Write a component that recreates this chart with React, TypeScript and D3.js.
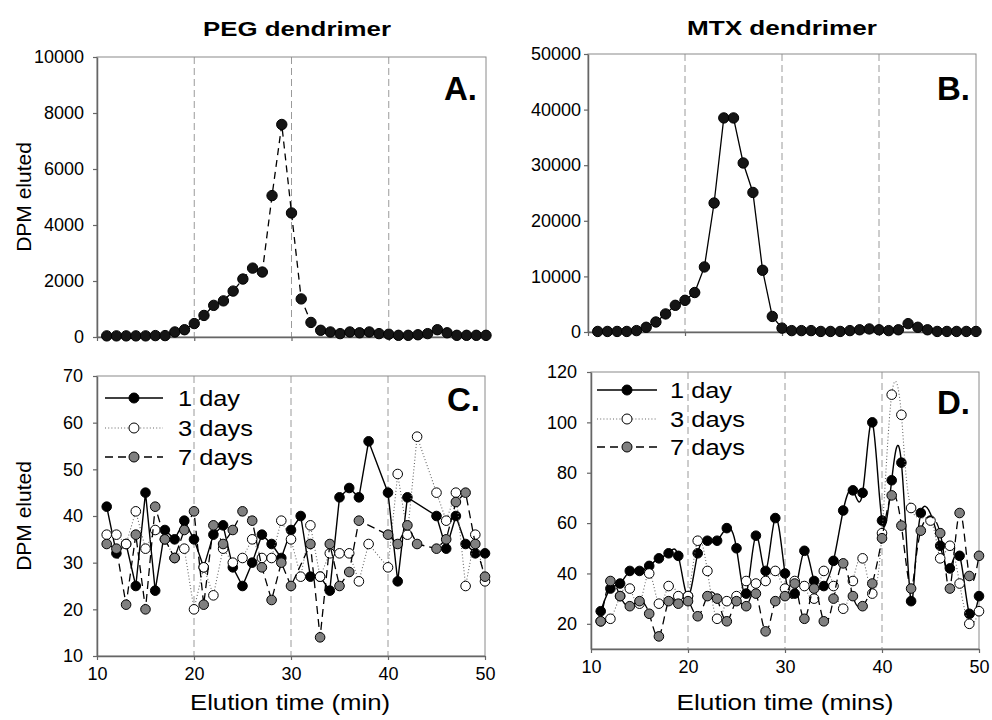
import React, { useEffect, useRef } from "react";
import * as d3 from "d3";

const FONT = "Arial, 'Liberation Sans', Helvetica, sans-serif";

// elution time, minutes
const minutes = [11, 12, 13, 14, 15, 16, 17, 18, 19, 20, 21, 22, 23, 24, 25, 26, 27, 28, 29, 30,
  31, 32, 33, 34, 35, 36, 37, 38, 39, 40, 41, 42, 43, 44, 45, 46, 47, 48, 49, 50];
const guideMinutes = [20, 30, 40];
const xTicks = [10, 20, 30, 40, 50];

// A. PEG dendrimer
const pegDpm = [40, 40, 40, 40, 40, 50, 50, 180, 260, 480, 770, 1130, 1290, 1640, 2070, 2460, 2320, 5050, 7590, 4430,
  1360, 520, 240, 180, 120, 180, 150, 180, 120, 100, 60, 60, 80, 120, 260, 150, 60, 60, 60, 60];
// B. MTX dendrimer
const mtxDpm = [100, 100, 100, 100, 250, 850, 1800, 3250, 4800, 5700, 7100, 11700, 23200, 38500, 38500, 30400, 25100, 11100, 2800, 700,
  250, 250, 250, 100, 100, 100, 250, 400, 550, 400, 250, 400, 1500, 850, 400, 100, 100, 100, 100, 100];

// C. PEG dendrimer, by day
const pegDay1 = [42, 32, 34, 25, 45, 24, 37, 35, 39, 35, 29, 36, 38, 29, 25, 30, 36, 34, 31, 37,
  40, 27, 27, 24, 44, 46, 44, 56, null, 45, 26, 44, null, null, 40, 33, 40, 34, 32, 32];
const pegDay3 = [36, 36, 34, 41, 33, 37, 35, 31, 33, 20, 29, 23, 33, 30, 31, 35, 31, 31, 39, 35,
  27, 38, 27, 32, 32, 32, 26, 34, null, 29, 49, 36, 57, null, 45, 39, 45, 25, 36, 26];
const pegDay7 = [34, 33, 21, 36, 20, 42, 35, 31, 37, 41, 21, 38, 34, 37, 41, 39, 29, 22, 30, 25,
  null, 34, 14, 34, 25, 28, 39, null, null, 36, 34, 38, 34, null, 33, 35, 43, 45, 34, 27];

// D. MTX dendrimer, by day
const mtxDay1 = [25, 34, 36, 41, 41, 43, 46, 48, 47, 31, 48, 53, 53, 58, 50, 32, 55, 41, 62, 40,
  32, 49, 37, 35, 45, 65, 73, 72, 100, 61, 77, 84, 29, 64, null, 51, 42, 47, 24, 31];
const mtxDay3 = [21, 22, 31, 34, 28, 40, 28, 35, 31, 31, 53, 41, 22, 29, 31, 37, 36, 37, 41, 34,
  37, 35, 30, 41, 35, 26, 37, 46, 32, 56, 111, 103, 66, null, 61, 46, 51, 36, 20, 25];
const mtxDay7 = [21, 37, 31, 27, 29, 24, 15, 29, 28, 29, 23, 31, 30, 21, 29, 27, 32, 17, 29, 31,
  36, 22, 34, 21, 30, 44, 31, 27, 36, 54, 71, 59, 34, 57, null, 56, 34, 64, 39, 47];

const seriesNames = ["1 day", "3 days", "7 days"];

const seriesStyles = [
  { fill: "#000", line: "#000", width: 1.4, dash: null as string | null },
  { fill: "#fff", line: "#666", width: 1.1, dash: "1,2.2" },
  { fill: "#808080", line: "#000", width: 1.3, dash: "8,5" },
];

type Box = { left: number; right: number; top: number; bottom: number };

function drawFrame(svg: any, box: Box, yDomain: [number, number], yTicks: number[], yPad: number, xLabels: boolean) {
  const x = d3.scaleLinear().domain([10, 50]).range([box.left, box.right]);
  const y = d3.scaleLinear().domain(yDomain).range([box.bottom, box.top]);
  const g = svg.append("g");

  g.selectAll("line.guide")
    .data(guideMinutes)
    .join("line")
    .attr("x1", (d: number) => x(d))
    .attr("x2", (d: number) => x(d))
    .attr("y1", box.top)
    .attr("y2", box.bottom)
    .attr("stroke", "#9a9a9a")
    .attr("stroke-width", 1)
    .attr("stroke-dasharray", "7,4");

  g.append("rect")
    .attr("x", box.left)
    .attr("y", box.top)
    .attr("width", box.right - box.left)
    .attr("height", box.bottom - box.top)
    .attr("fill", "none")
    .attr("stroke", "#8a8a8a")
    .attr("stroke-width", 1);

  const yAxis = g.append("g")
    .attr("transform", `translate(${box.left},0)`)
    .call(d3.axisLeft(y).tickValues(yTicks).tickSize(4).tickSizeOuter(0).tickPadding(yPad).tickFormat(d3.format("d")));

  const xAxis = g.append("g")
    .attr("transform", `translate(0,${box.bottom})`)
    .call(d3.axisBottom(x).tickValues(xTicks).tickSize(4).tickSizeOuter(0).tickPadding(7)
      .tickFormat((d: any) => (xLabels ? String(d) : "")));

  [yAxis, xAxis].forEach(ax => {
    ax.select(".domain").attr("stroke", "#666").attr("stroke-width", 1.5);
    ax.selectAll(".tick line").attr("stroke", "#666").attr("stroke-width", 1.2);
    ax.selectAll(".tick text")
      .attr("fill", "#000")
      .attr("font-family", FONT)
      .attr("font-size", 18);
  });

  return { x, y, g };
}

function drawSeries(g: any, x: any, y: any, values: (number | null)[], style: typeof seriesStyles[0], curve: any, r: number) {
  const pts = minutes
    .map((m, i) => ({ m, v: values[i] }))
    .filter(p => p.v !== null) as { m: number; v: number }[];

  const line = d3.line<{ m: number; v: number }>()
    .x(p => x(p.m))
    .y(p => y(p.v))
    .curve(curve);

  g.append("path")
    .datum(pts)
    .attr("d", line)
    .attr("fill", "none")
    .attr("stroke", style.line)
    .attr("stroke-width", style.width)
    .attr("stroke-dasharray", style.dash);

  g.append("g")
    .selectAll("circle")
    .data(pts)
    .join("circle")
    .attr("cx", (p: any) => x(p.m))
    .attr("cy", (p: any) => y(p.v))
    .attr("r", r)
    .attr("fill", style.fill)
    .attr("stroke", "#000")
    .attr("stroke-width", 1);
}

function drawLegend(svg: any, x0: number, x1: number, textX: number, rows: number[]) {
  const g = svg.append("g");
  seriesNames.forEach((name, i) => {
    const s = seriesStyles[i];
    g.append("line")
      .attr("x1", x0).attr("x2", x1)
      .attr("y1", rows[i]).attr("y2", rows[i])
      .attr("stroke", s.line)
      .attr("stroke-width", s.width)
      .attr("stroke-dasharray", s.dash);
    g.append("circle")
      .attr("cx", (x0 + x1) / 2).attr("cy", rows[i]).attr("r", 5)
      .attr("fill", s.fill).attr("stroke", "#000").attr("stroke-width", 1);
    g.append("text")
      .attr("x", textX).attr("y", rows[i] + 8)
      .attr("font-family", FONT).attr("font-size", 22)
      .attr("textLength", name === "1 day" ? 62 : 75)
      .attr("lengthAdjust", "spacingAndGlyphs")
      .text(name);
  });
}

function addText(svg: any, txt: string, x: number, y: number, size: number, opts: any = {}) {
  const t = svg.append("text")
    .attr("x", x).attr("y", y)
    .attr("font-family", FONT)
    .attr("font-size", size)
    .attr("font-weight", opts.bold ? "bold" : "normal")
    .attr("text-anchor", opts.anchor || "middle")
    .text(txt);
  if (opts.len) t.attr("textLength", opts.len).attr("lengthAdjust", "spacingAndGlyphs");
  if (opts.rotate) t.attr("transform", `rotate(-90,${x},${y})`);
  return t;
}

export default function App() {
  const ref = useRef<SVGSVGElement>(null);

  useEffect(() => {
    const svg = d3.select(ref.current);
    svg.selectAll("*").remove();

    // A
    const a = drawFrame(svg, { left: 97, right: 486, top: 57, bottom: 337 }, [0, 10000], d3.range(0, 10001, 2000), 9, false);
    drawSeries(a.g, a.x, a.y, pegDpm, { fill: "#151515", line: "#000", width: 1.3, dash: "7,5" }, d3.curveLinear, 5.2);

    // B
    const b = drawFrame(svg, { left: 588, right: 976, top: 54, bottom: 332 }, [0, 50000], d3.range(0, 50001, 10000), 3, false);
    drawSeries(b.g, b.x, b.y, mtxDpm, { fill: "#151515", line: "#000", width: 1.3, dash: null }, d3.curveLinear, 5.2);

    // C
    const c = drawFrame(svg, { left: 97, right: 485, top: 376, bottom: 656 }, [10, 70], d3.range(10, 71, 10), 10, true);
    [pegDay1, pegDay3, pegDay7].forEach((vals, i) => drawSeries(c.g, c.x, c.y, vals, seriesStyles[i], d3.curveLinear, 4.8));

    // D
    const dd = drawFrame(svg, { left: 591, right: 979, top: 372, bottom: 649 }, [10, 120], d3.range(20, 121, 20), 10, true);
    [mtxDay1, mtxDay3, mtxDay7].forEach((vals, i) => drawSeries(dd.g, dd.x, dd.y, vals, seriesStyles[i], d3.curveNatural, 4.8));

    drawLegend(svg, 105, 163, 178, [398, 428, 457]);
    drawLegend(svg, 597, 657, 670, [390, 419, 447]);

    addText(svg, "PEG dendrimer", 297, 36, 21, { bold: true, len: 188 });
    addText(svg, "MTX dendrimer", 782, 35, 21, { bold: true, len: 190 });

    addText(svg, "A.", 477, 100, 33, { bold: true, anchor: "end" });
    addText(svg, "B.", 970, 100, 33, { bold: true, anchor: "end" });
    addText(svg, "C.", 480, 411, 33, { bold: true, anchor: "end" });
    addText(svg, "D.", 970, 414, 33, { bold: true, anchor: "end" });

    addText(svg, "DPM eluted", 31, 197, 21, { rotate: true });
    addText(svg, "DPM eluted", 31, 516, 21, { rotate: true });

    addText(svg, "Elution time (min)", 290, 710, 22, { len: 200 });
    addText(svg, "Elution time (mins)", 785, 710, 22, { len: 217 });
  }, []);

  return (
    <svg
      ref={ref}
      width={992}
      height={720}
      style={{ position: "absolute", left: 0, top: 0, background: "#fff" }}
    />
  );
}
